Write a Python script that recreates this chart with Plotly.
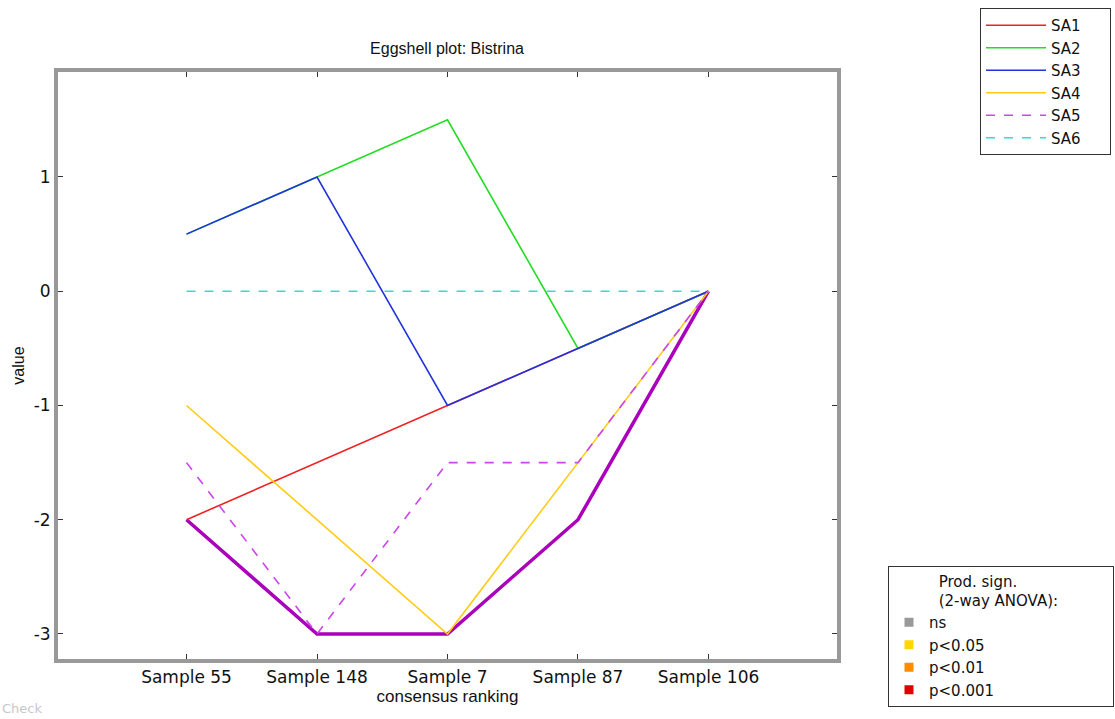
import plotly.graph_objects as go

categories = ["Sample 55", "Sample 148", "Sample 7", "Sample 87", "Sample 106"]
sa1 = [-2, -1.5, -1, -0.5, 0]
sa2 = [0.5, 1, 1.5, -0.5, 0]
sa3 = [0.5, 1, -1, -0.5, 0]
sa4 = [-1, -2, -3, -1.5, 0]
sa5 = [-1.5, -3, -1.5, -1.5, 0]
sa6 = [0, 0, 0, 0, 0]
eggshell = [-2, -3, -3, -2, 0]

assessors = ["SA1", "SA2", "SA3", "SA4", "SA5", "SA6"]
series = [sa1, sa2, sa3, sa4, sa5, sa6]
colors = ["#ee2222", "#22dd22", "#2233dd", "#ffcc11", "#cc44ee", "#33ddcc"]
dashes = ["solid", "solid", "solid", "solid", "dash", "dash"]

sig_labels = ["ns", "p<0.05", "p<0.01", "p<0.001"]
sig_colors = ["#999999", "#ffd700", "#ff8c00", "#e00000"]

nb = "&nbsp;"
fig = go.Figure()

fig.add_trace(go.Scatter(x=categories, y=eggshell, mode="lines",
                         line=dict(color="#aa00bb", width=3.5),
                         showlegend=False, hoverinfo="skip"))

for name, vals, c, d in zip(assessors, series, colors, dashes):
    fig.add_trace(go.Scatter(x=categories, y=vals, mode="lines", name=name + nb * 5,
                             line=dict(color=c, width=1.6, dash=d),
                             legend="legend"))

for lab, c in zip(sig_labels, sig_colors):
    fig.add_trace(go.Scatter(x=[None], y=[None], mode="markers", name=lab,
                             marker=dict(color=c, symbol="square", size=9),
                             legend="legend2"))

axis_common = dict(showgrid=False, zeroline=False, showline=True, linecolor="#999999",
                   linewidth=4, mirror="allticks", ticks="inside", ticklen=5,
                   tickcolor="#333333", tickwidth=1, automargin=False,
                   tickfont=dict(family="DejaVu Sans", size=17, color="#111111"))

# plot area in pixels
L, R, T, B = 58, 837, 72, 659
PW, PH = R - L, B - T

fig.update_layout(
    width=1115, height=719,
    paper_bgcolor="white", plot_bgcolor="white",
    margin=dict(l=L, r=1115 - R, t=T, b=719 - B, autoexpand=False),
    title=dict(text="Eggshell plot: Bistrina", x=(447 / 1115), xanchor="center",
               y=1 - 48 / 719, yanchor="middle",
               font=dict(family="Liberation Sans", size=16, color="#111111")),
    xaxis=dict(range=[-0.985, 4.985], title=dict(text="consensus ranking", standoff=4,
               font=dict(family="Liberation Sans", size=17, color="#111111")),
               **axis_common),
    yaxis=dict(range=[-3.219, 1.919], tickvals=[-3, -2, -1, 0, 1],
               ticktext=["-3", "-2", "-1", "0", "1"],
               title=dict(text="value", standoff=6,
                          font=dict(family="Liberation Sans", size=16, color="#111111")),
               **axis_common),
    legend=dict(x=(980 - L) / PW, y=(B - 8) / PH, xanchor="left", yanchor="top",
                bordercolor="#333333", borderwidth=1, bgcolor="white",
                font=dict(family="DejaVu Sans", size=15, color="#111111"),
                itemwidth=60, tracegroupgap=0),
    legend2=dict(x=(888 - L) / PW, y=(B - 566) / PH, xanchor="left", yanchor="top",
                 bordercolor="#333333", borderwidth=1, bgcolor="white",
                 font=dict(family="DejaVu Sans", size=15, color="#111111"),
                 title=dict(text=nb * 10 + "Prod. sign.<br>" + nb * 10 + "(2-way ANOVA):" + nb * 11,
                            font=dict(family="DejaVu Sans", size=15, color="#111111")),
                 itemwidth=30),
    annotations=[dict(text="Check", xref="paper", yref="paper", x=-L / PW, y=(B - 718) / PH,
                      xanchor="left", yanchor="bottom", showarrow=False,
                      font=dict(family="DejaVu Sans", size=13, color="#c8c8c8"))],
)

fig.write_html("out.html", config={"displayModeBar": False},
               post_script="document.body.style.margin='0';")
